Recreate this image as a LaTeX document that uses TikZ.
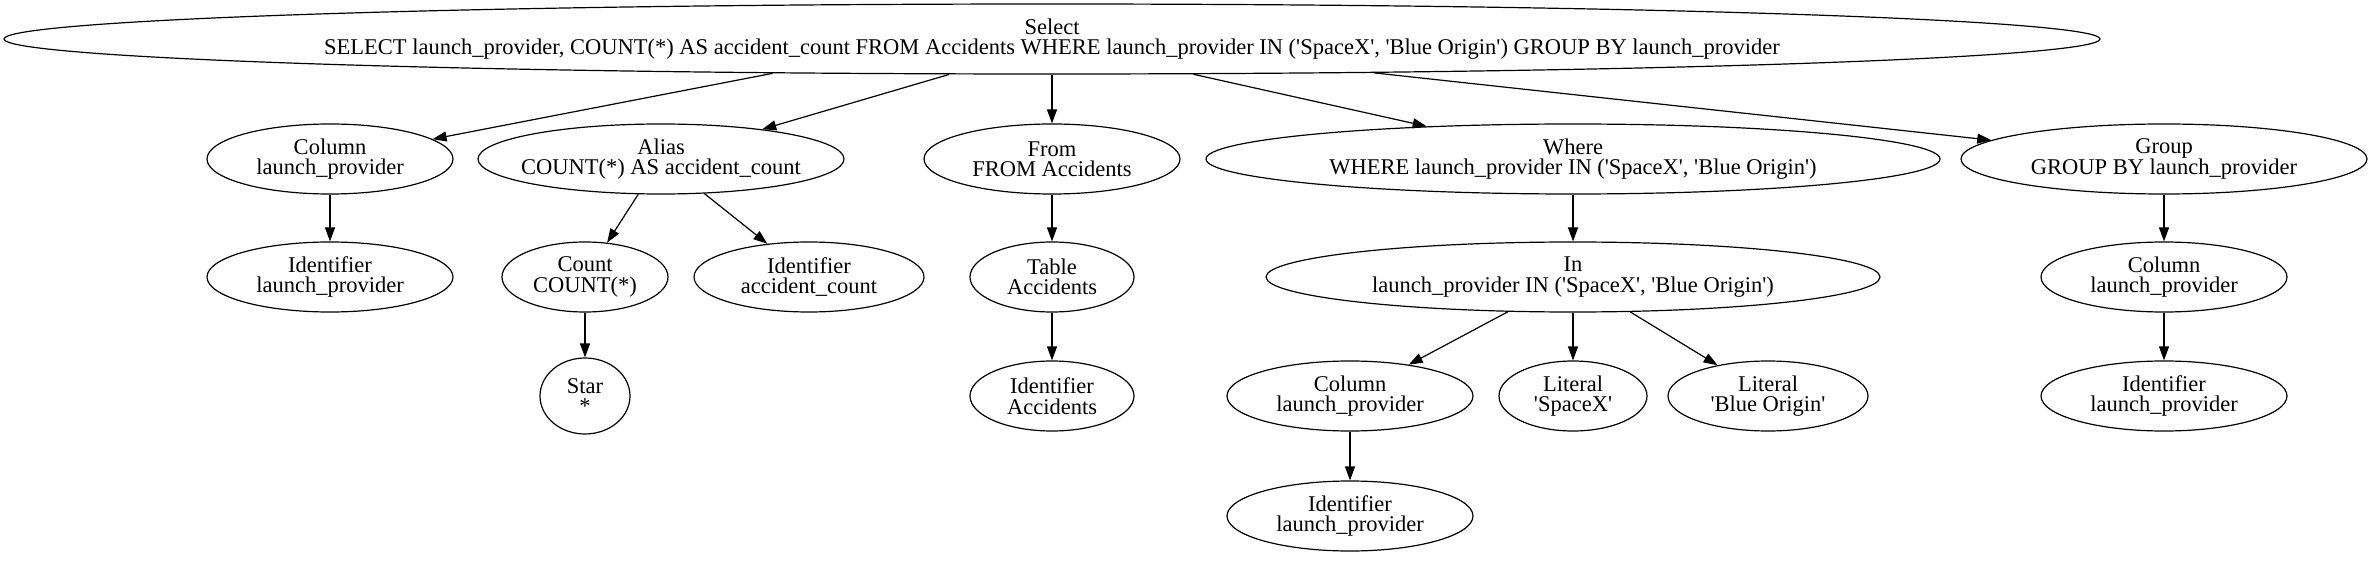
\documentclass[tikz,border=0pt]{standalone}
\usepackage{fontspec}
\setmainfont{Liberation Serif}
\usetikzlibrary{shapes.geometric,arrows.meta}
\newcommand\sq{\textquotesingle}
\begin{document}
\begin{tikzpicture}[x=1pt,y=1pt,
  nd/.style 2 args={draw, ellipse, inner ysep=0pt, inner xsep=-25pt, line width=1.2pt, align=center,
     font=\fontsize{22.5}{20.5}\selectfont, minimum width=#1pt, minimum height=#2pt},
  ed/.style={line width=1.2pt, -{Triangle[length=14pt,width=10pt]}}
]
\useasboundingbox (0,0) rectangle (2371,-561);
% root
\node[nd={2096}{70}] (root) at (1052,-39) {Select\\SELECT launch\_provider, COUNT(*) AS accident\_count FROM Accidents WHERE launch\_provider IN (\sq SpaceX\sq, \sq Blue Origin\sq) GROUP BY launch\_provider};
% level 1
\node[nd={246}{70}] (col1) at (330,-159) {Column\\launch\_provider};
\node[nd={366}{70}] (alias) at (661,-159) {Alias\\COUNT(*) AS accident\_count};
\node[nd={256}{70}] (from) at (1052,-159) {From\\FROM Accidents};
\node[nd={734}{70}] (where) at (1573,-159) {Where\\WHERE launch\_provider IN (\sq SpaceX\sq, \sq Blue Origin\sq)};
\node[nd={406}{70}] (group) at (2164,-159) {Group\\GROUP BY launch\_provider};
% level 2
\node[nd={246}{70}] (id1) at (330,-277) {Identifier\\launch\_provider};
\node[nd={166}{70}] (count) at (585,-277) {Count\\COUNT(*)};
\node[nd={230}{70}] (idac) at (809,-277) {Identifier\\accident\_count};
\node[nd={164}{70}] (table) at (1052,-277) {Table\\Accidents};
\node[nd={614}{70}] (in) at (1573,-277) {In\\launch\_provider IN (\sq SpaceX\sq, \sq Blue Origin\sq)};
\node[nd={246}{70}] (col3) at (2164,-277) {Column\\launch\_provider};
% level 3
\node[nd={90}{76}] (star) at (585,-396) {Star\\*};
\node[nd={164}{70}] (idacc) at (1052,-396) {Identifier\\Accidents};
\node[nd={246}{70}] (col2) at (1350,-396) {Column\\launch\_provider};
\node[nd={148}{70}] (lit1) at (1573,-396) {Literal\\\sq SpaceX\sq};
\node[nd={200}{70}] (lit2) at (1768,-396) {Literal\\\sq Blue Origin\sq};
\node[nd={246}{70}] (id3) at (2164,-396) {Identifier\\launch\_provider};
% level 4
\node[nd={246}{70}] (id2) at (1350,-516) {Identifier\\launch\_provider};
% edges
\draw[ed] (root.187.3) -- (col1);
\draw[ed] (root.199.6) -- (alias);
\draw[ed] (root) -- (from);
\draw[ed] (root.346.4) -- (where);
\draw[ed] (root.354.4) -- (group);
\draw[ed] (col1) -- (id1);
\draw[ed] (alias) -- (count);
\draw[ed] (alias) -- (idac);
\draw[ed] (count) -- (star);
\draw[ed] (from) -- (table);
\draw[ed] (table) -- (idacc);
\draw[ed] (where) -- (in);
\draw[ed] (in) -- (col2);
\draw[ed] (in) -- (lit1);
\draw[ed] (in) -- (lit2);
\draw[ed] (col2) -- (id2);
\draw[ed] (group) -- (col3);
\draw[ed] (col3) -- (id3);
\end{tikzpicture}
\end{document}
